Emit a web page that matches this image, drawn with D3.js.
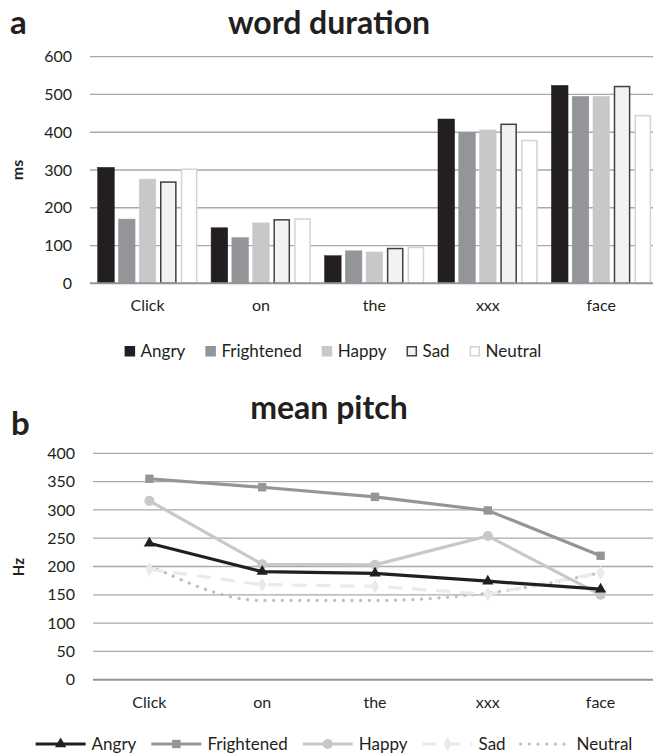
<!DOCTYPE html>
<html>
<head>
<meta charset="utf-8">
<script src="https://d3js.org/d3.v7.min.js"></script>
<style>
  body { margin: 0; background: #fff; }
  text { font-family: "Lato", "Open Sans", sans-serif; fill: #231f20; }
</style>
</head>
<body>
<script>
"use strict";

// categories and series
var words = ["Click", "on", "the", "xxx", "face"];
var emotions = ["Angry", "Frightened", "Happy", "Sad", "Neutral"];

// word duration (ms)
var durAngry      = [307, 147, 73, 435, 524];
var durFrightened = [170, 121, 86, 400, 495];
var durHappy      = [276, 160, 83, 406, 495];
var durSad        = [270, 170, 94, 423, 523];
var durNeutral    = [304, 172, 97, 380, 446];
var durTicks = [0, 100, 200, 300, 400, 500, 600];

// mean pitch (Hz)
var pitchAngry      = [241, 191, 188, 174, 160];
var pitchFrightened = [355, 340, 323, 299, 219];
var pitchHappy      = [316, 204, 203, 254, 150];
var pitchSad        = [195, 168, 165, 151, 189];
var pitchNeutral    = [202, 140, 140, 153, 189];
var pitchTicks = [0, 50, 100, 150, 200, 250, 300, 350, 400];

var durations = [durAngry, durFrightened, durHappy, durSad, durNeutral];
var pitches = [pitchAngry, pitchFrightened, pitchHappy, pitchSad, pitchNeutral];

var W = 653, H = 753;
var svg = d3.select("body").append("svg")
    .attr("width", W)
    .attr("height", H);

var gridColor = "#a7a9ac", axisColor = "#939598";

// bar styles
var barFill   = {Angry: "#231f20", Frightened: "#939598", Happy: "#c7c8ca", Sad: "#f1f2f2", Neutral: "#ffffff"};
var barStroke = {Angry: "#231f20", Frightened: "#939598", Happy: "#c7c8ca", Sad: "#414042", Neutral: "#d1d3d4"};

/* ---------------- chart a: word duration ---------------- */
var ga = svg.append("g");

var x0 = d3.scaleBand().domain(words).range([90.8, 658]);
var x1 = d3.scaleBand().domain(emotions).range([0, x0.bandwidth()])
    .paddingInner(0.2).paddingOuter(0.33);
var ya = d3.scaleLinear().domain([0, 600]).range([283.3, 56.7]);

ga.append("text").attr("x", 10).attr("y", 34)
    .attr("font-size", 33).attr("font-weight", "bold").text("a");
ga.append("text").attr("x", 329).attr("y", 34).attr("text-anchor", "middle")
    .attr("font-size", 32).attr("font-weight", "bold").text("word duration");

// grid
ga.selectAll(".grid").data(durTicks.filter(function(d) { return d > 0; }))
  .enter().append("line")
    .attr("x1", 90).attr("x2", W)
    .attr("y1", function(d) { return ya(d); })
    .attr("y2", function(d) { return ya(d); })
    .style("stroke", gridColor).style("stroke-width", 1.3);

// y ticks
ga.selectAll(".ytick").data(durTicks).enter().append("text")
    .attr("x", 72).attr("y", function(d) { return ya(d); })
    .attr("dy", "0.35em").attr("text-anchor", "end")
    .attr("font-size", 16).text(function(d) { return d; });

ga.append("text")
    .attr("transform", "translate(23,170) rotate(-90)")
    .attr("text-anchor", "middle").attr("font-size", 16).attr("font-weight", "bold")
    .text("ms");

// bars
emotions.forEach(function(em, i) {
  var inset = (em === "Sad" || em === "Neutral") ? 0.75 : 0;
  ga.selectAll(".bar" + i).data(durations[i]).enter().append("rect")
      .attr("x", function(d, j) { return x0(words[j]) + x1(em) + inset; })
      .attr("y", function(d) { return ya(d) + inset; })
      .attr("width", x1.bandwidth() - 2 * inset)
      .attr("height", function(d) { return ya(0) - ya(d) - inset; })
      .style("fill", barFill[em])
      .style("stroke", barStroke[em])
      .style("stroke-width", inset ? 1.5 : 0.5);
});

// x axis line
ga.append("line").attr("x1", 90).attr("x2", W)
    .attr("y1", ya(0)).attr("y2", ya(0))
    .style("stroke", axisColor).style("stroke-width", 2);

ga.selectAll(".xlab").data(words).enter().append("text")
    .attr("x", function(d) { return x0(d) + x0.bandwidth() / 2; })
    .attr("y", 311).attr("text-anchor", "middle")
    .attr("font-size", 16).text(function(d) { return d; });

// legend a
var legA = ga.append("g");
var lx = 0;
emotions.forEach(function(em) {
  var item = legA.append("g").attr("transform", "translate(" + lx + ",0)");
  var inset = (em === "Sad" || em === "Neutral") ? 0.75 : 0;
  item.append("rect").attr("x", inset).attr("y", -5 + inset)
      .attr("width", 10.5 - 2 * inset).attr("height", 10.5 - 2 * inset)
      .style("fill", barFill[em]).style("stroke", barStroke[em])
      .style("stroke-width", inset ? 1.5 : 0);
  var t = item.append("text").attr("x", 16).attr("y", 0).attr("dy", "0.35em")
      .attr("font-size", 17).text(em);
  lx += 16 + t.node().getComputedTextLength() + 20;
});
legA.attr("transform", "translate(" + (333 - (lx - 20) / 2) + ",351)");

/* ---------------- chart b: mean pitch ---------------- */
var gb = svg.append("g");

var xb = d3.scaleBand().domain(words).range([93, 657]);
var yb = d3.scaleLinear().domain([0, 400]).range([679.7, 453.3]);

gb.append("text").attr("x", 11).attr("y", 435)
    .attr("font-size", 33).attr("font-weight", "bold").text("b");
gb.append("text").attr("x", 329).attr("y", 419).attr("text-anchor", "middle")
    .attr("font-size", 32).attr("font-weight", "bold").text("mean pitch");

gb.selectAll(".grid").data(pitchTicks.filter(function(d) { return d > 0; }))
  .enter().append("line")
    .attr("x1", 93).attr("x2", W)
    .attr("y1", function(d) { return yb(d); })
    .attr("y2", function(d) { return yb(d); })
    .style("stroke", gridColor).style("stroke-width", 1.3);

gb.selectAll(".ytick").data(pitchTicks).enter().append("text")
    .attr("x", 75).attr("y", function(d) { return yb(d); })
    .attr("dy", "0.35em").attr("text-anchor", "end")
    .attr("font-size", 16).text(function(d) { return d; });

gb.append("text")
    .attr("transform", "translate(24,567) rotate(-90)")
    .attr("text-anchor", "middle").attr("font-size", 15).attr("font-weight", "bold")
    .text("Hz");

gb.append("line").attr("x1", 93).attr("x2", W)
    .attr("y1", yb(0)).attr("y2", yb(0))
    .style("stroke", axisColor).style("stroke-width", 2);

gb.selectAll(".xlab").data(words).enter().append("text")
    .attr("x", function(d) { return xb(d) + xb.bandwidth() / 2; })
    .attr("y", 708).attr("text-anchor", "middle")
    .attr("font-size", 16).text(function(d) { return d; });

var lineStyles = {
  Angry:      {color: "#231f20", width: 3.2, dash: null,      symbol: d3.symbolTriangle, size: 55, curve: d3.curveLinear},
  Frightened: {color: "#939598", width: 3.2, dash: null,      symbol: d3.symbolSquare,   size: 70, curve: d3.curveLinear},
  Happy:      {color: "#c7c8ca", width: 3.2, dash: null,      symbol: d3.symbolCircle,   size: 80, curve: d3.curveLinear},
  Sad:        {color: "#e9eaeb", width: 3.2, dash: "14 10",   symbol: d3.symbolDiamond,  size: 60, curve: d3.curveLinear},
  Neutral:    {color: "#bcbec0", width: 3.2, dash: "0.1 8.6", symbol: null,              size: 0,  curve: d3.curveMonotoneX}
};

function px(j) { return xb(words[j]) + xb.bandwidth() / 2; }

// draw from back to front
["Neutral", "Sad", "Happy", "Frightened", "Angry"].forEach(function(em) {
  var i = emotions.indexOf(em), s = lineStyles[em];
  var line = d3.line().x(function(d, j) { return px(j); }).y(function(d) { return yb(d); }).curve(s.curve);
  gb.append("path").datum(pitches[i]).attr("d", line)
      .style("fill", "none").style("stroke", s.color).style("stroke-width", s.width)
      .style("stroke-linecap", s.dash && s.dash.indexOf("0.1") === 0 ? "round" : "butt")
      .style("stroke-dasharray", s.dash);
  if (s.symbol) {
    gb.selectAll(".m" + i).data(pitches[i]).enter().append("path")
        .attr("d", d3.symbol().type(s.symbol).size(s.size))
        .attr("transform", function(d, j) { return "translate(" + px(j) + "," + yb(d) + ")"; })
        .style("fill", s.color);
  }
});

// legend b
var legB = gb.append("g");
var bx = 0;
emotions.forEach(function(em) {
  var s = lineStyles[em];
  var item = legB.append("g").attr("transform", "translate(" + bx + ",0)");
  item.append("line").attr("x1", 0).attr("x2", 50).attr("y1", 0).attr("y2", 0)
      .style("stroke", s.color).style("stroke-width", s.width)
      .style("stroke-linecap", s.dash && s.dash.indexOf("0.1") === 0 ? "round" : "butt")
      .style("stroke-dasharray", s.dash);
  if (s.symbol) {
    item.append("path").attr("d", d3.symbol().type(s.symbol).size(s.size))
        .attr("transform", "translate(25,0)").style("fill", s.color);
  }
  var t = item.append("text").attr("x", 56).attr("y", 0).attr("dy", "0.35em")
      .attr("font-size", 17).text(em);
  bx += 56 + t.node().getComputedTextLength() + 15;
});
legB.attr("transform", "translate(" + (334 - (bx - 15) / 2) + ",744)");
</script>
</body>
</html>
